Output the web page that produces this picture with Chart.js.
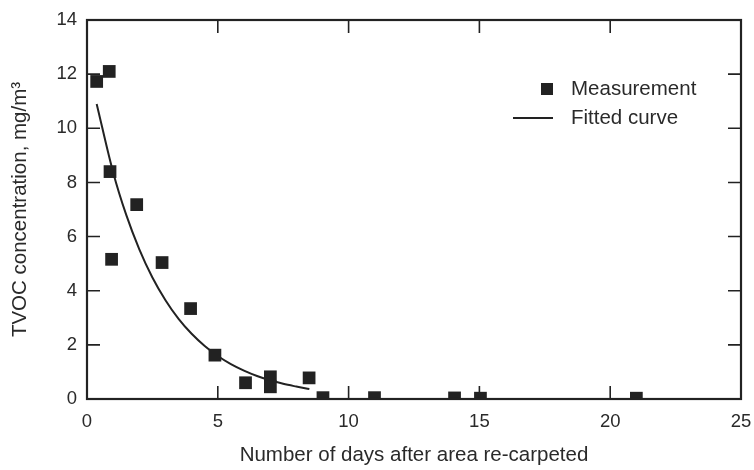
<!DOCTYPE html>
<html>
<head>
<meta charset="utf-8">
<script src="https://cdn.jsdelivr.net/npm/chart.js@4/dist/chart.umd.min.js"></script>
<style>
  html, body { margin: 0; padding: 0; background: #fff; }
  #wrap { width: 754px; height: 470px; }
</style>
</head>
<body>
<div id="wrap"><canvas id="c" width="754" height="470"></canvas></div>
<script>
// Measured TVOC concentrations (days after re-carpeting, mg/m3)
const measDays = [0.37, 0.85, 0.88, 0.94, 1.9, 2.87, 3.96, 4.89, 6.06, 7.01, 7.01, 8.49, 9.02, 10.99, 14.05, 15.04, 21.0];
const measConc = [11.73, 12.1, 8.4, 5.16, 7.18, 5.04, 3.34, 1.62, 0.6, 0.82, 0.45, 0.78, 0.05, 0.05, 0.04, 0.03, 0.03];

// Fitted curve
const curveDays = [0.37, 1.0, 1.5, 2.0, 2.5, 3.0, 3.5, 4.0, 4.5, 5.0, 5.5, 6.0, 6.5, 7.0, 7.5, 8.0, 8.5];
const curveConc = [10.9, 8.37, 6.8, 5.53, 4.49, 3.65, 2.96, 2.41, 1.96, 1.59, 1.29, 1.05, 0.85, 0.69, 0.56, 0.46, 0.37];

const xTicks = [0, 5, 10, 15, 20, 25];
const yTicks = [0, 2, 4, 6, 8, 10, 12, 14];

const seriesNames = ['Measurement', 'Fitted curve'];
const xTitle = 'Number of days after area re-carpeted';
const yTitle = 'TVOC concentration, mg/m\u00B3';

const INK = '#222';
const TXT = '#2a2a2a';
const FAM = '"Liberation Sans", Arial, sans-serif';

const measPts = measDays.map((d, i) => ({ x: d, y: measConc[i] }));
const curvePts = curveDays.map((d, i) => ({ x: d, y: curveConc[i] }));

const framePlugin = {
  id: 'frame',
  afterDatasetsDraw(chart) {
    const { ctx, chartArea: a, scales: { x, y } } = chart;
    ctx.save();
    ctx.strokeStyle = INK;
    ctx.lineWidth = 1.6;
    const tl = 13;
    ctx.beginPath();
    xTicks.slice(1, -1).forEach(v => {
      const px = x.getPixelForValue(v);
      ctx.moveTo(px, a.bottom); ctx.lineTo(px, a.bottom - tl);
      ctx.moveTo(px, a.top); ctx.lineTo(px, a.top + tl);
    });
    yTicks.slice(1, -1).forEach(v => {
      const py = y.getPixelForValue(v);
      ctx.moveTo(a.left, py); ctx.lineTo(a.left + tl, py);
      ctx.moveTo(a.right, py); ctx.lineTo(a.right - tl, py);
    });
    ctx.stroke();
    ctx.lineWidth = 2.2;
    ctx.strokeRect(a.left, a.top, a.right - a.left, a.bottom - a.top);
    ctx.restore();
  },
  afterDraw(chart) {
    // legend
    const { ctx, chartArea: a } = chart;
    const ds = chart.data.datasets;
    ctx.save();
    ctx.font = '20.5px ' + FAM;
    ctx.textBaseline = 'middle';
    ctx.textAlign = 'left';
    const tx = a.right - 170;
    const y1 = a.top + 69, y2 = a.top + 98;
    ctx.fillStyle = ds[0].backgroundColor;
    ctx.fillRect(tx - 30, y1 - 6, 12, 12);
    ctx.fillStyle = TXT;
    ctx.fillText(seriesNames[0], tx, y1);
    ctx.strokeStyle = ds[1].borderColor;
    ctx.lineWidth = 2;
    ctx.beginPath();
    ctx.moveTo(tx - 58, y2); ctx.lineTo(tx - 18, y2);
    ctx.stroke();
    ctx.fillText(seriesNames[1], tx, y2);
    ctx.restore();
  }
};

new Chart(document.getElementById('c'), {
  type: 'scatter',
  data: {
    datasets: [
      {
        label: seriesNames[0],
        data: measPts,
        pointStyle: 'rect',
        pointRadius: 9,
        pointHoverRadius: 9,
        backgroundColor: INK,
        borderColor: INK,
        borderWidth: 0,
        showLine: false
      },
      {
        label: seriesNames[1],
        data: curvePts,
        showLine: true,
        pointRadius: 0,
        borderColor: INK,
        backgroundColor: INK,
        borderWidth: 2,
        cubicInterpolationMode: 'monotone',
        fill: false
      }
    ]
  },
  options: {
    responsive: false,
    animation: false,
    events: [],
    layout: { padding: { top: 20, right: 13, left: 0, bottom: 0 } },
    plugins: { legend: { display: false }, tooltip: { enabled: false } },
    scales: {
      x: {
        type: 'linear',
        min: 0, max: 25,
        afterBuildTicks: s => { s.ticks = xTicks.map(v => ({ value: v })); },
        afterFit: s => { s.height = 71; s.paddingLeft = 0; s.paddingRight = 0; },
        grid: { display: false, drawTicks: false },
        border: { display: false },
        ticks: { color: TXT, padding: 12, font: { size: 18.5, family: FAM }, maxRotation: 0 },
        title: { display: true, text: xTitle, color: TXT, padding: { top: 0, bottom: 2 }, font: { size: 20.5, family: FAM } }
      },
      y: {
        type: 'linear',
        min: 0, max: 14,
        afterBuildTicks: s => { s.ticks = yTicks.map(v => ({ value: v })); },
        afterFit: s => { s.width = 87; s.paddingTop = 0; s.paddingBottom = 0; },
        grid: { display: false, drawTicks: false },
        border: { display: false },
        ticks: { color: TXT, padding: 10, font: { size: 18.5, family: FAM } },
        title: { display: true, text: yTitle, color: TXT, padding: { top: 8, bottom: 0 }, font: { size: 20.5, family: FAM } }
      }
    }
  },
  plugins: [framePlugin]
});
</script>
</body>
</html>
